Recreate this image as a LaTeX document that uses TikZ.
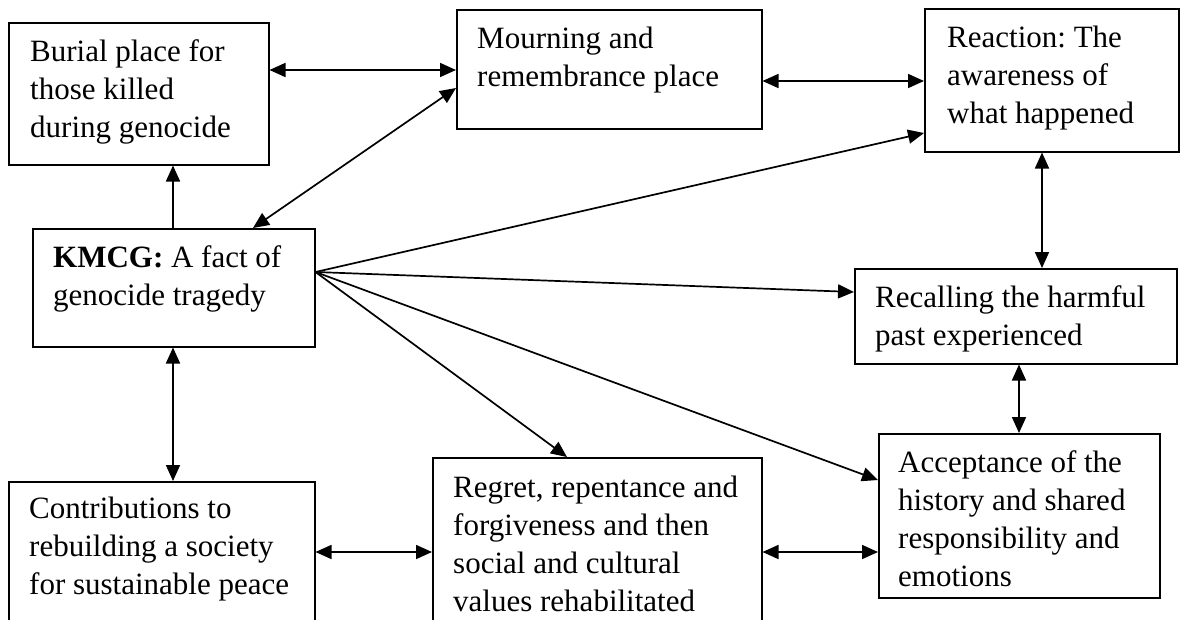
\documentclass[tikz,border=0pt]{standalone}
\usepackage{fontspec}
\setmainfont{Liberation Serif}
\usetikzlibrary{arrows.meta,calc}
\frenchspacing
\begin{document}
\begin{tikzpicture}[x=1pt,y=-1pt,
  box/.style={draw=black, line width=1.5pt, rectangle, inner sep=0pt, anchor=north west},
  txt/.style={anchor=north west, inner sep=0pt, align=left, font=\fontsize{31}{38}\selectfont},
  tip/.tip={Triangle[length=16pt,width=14pt]},
  conn/.style={line width=1.7pt, -tip},
  dconn/.style={line width=1.7pt, tip-tip}]
\clip (0,0) rectangle (1180,619);
\fill[white] (0,0) rectangle (1180,619);
% boxes
\node[box, minimum width=260pt, minimum height=142pt] (burial) at (8,22) {};
\node[box, minimum width=305pt, minimum height=119pt] (mourn) at (456,9) {};
\node[box, minimum width=254pt, minimum height=143pt] (reac) at (924,8) {};
\node[box, minimum width=282pt, minimum height=118pt] (kmcg) at (32,228) {};
\node[box, minimum width=322pt, minimum height=95pt] (recall) at (854,268) {};
\node[box, minimum width=306pt, minimum height=170pt] (contrib) at (8,481) {};
\node[box, minimum width=329pt, minimum height=200pt] (regret) at (432,457) {};
\node[box, minimum width=281pt, minimum height=164pt] (accept) at (878,433) {};
% texts
\node[txt] (tburial) at ($(burial.north west)+(22,12.4)$) {\strut Burial place for\\those killed\\during genocide};
\node[txt] (tmourn) at ($(mourn.north west)+(21,12.4)$) {\strut Mourning and\\remembrance place};
\node[txt] (treac) at ($(reac.north west)+(23,12.4)$) {\strut Reaction: The\\awareness of\\what happened};
\node[txt] (tkmcg) at ($(kmcg.north west)+(21,12.4)$) {\strut\textbf{KMCG:} A fact of\\genocide tragedy};
\node[txt] (trecall) at ($(recall.north west)+(21,12.4)$) {\strut Recalling the harmful\\past experienced};
\node[txt] (tcontrib) at ($(contrib.north west)+(21,10.4)$) {\strut Contributions to\\rebuilding a society\\for sustainable peace};
\node[txt] (tregret) at ($(regret.north west)+(21,13.4)$) {\strut Regret, repentance and\\forgiveness and then\\social and cultural\\values rehabilitated};
\node[txt] (taccept) at ($(accept.north west)+(20,12.4)$) {\strut Acceptance of the\\history and shared\\responsibility and\\emotions};
% helper coordinates
\coordinate (cx173) at (173,0);
\coordinate (cx253) at (253,0);
\coordinate (cx567) at (567,0);
\coordinate (cx1042) at (1042,0);
\coordinate (cx1019) at (1019,0);
\coordinate (cy70) at (0,70);
\coordinate (cy81) at (0,81);
\coordinate (cy88) at (0,88);
\coordinate (cy133) at (0,133);
\coordinate (cy272) at (0,272);
\coordinate (cy292) at (0,292);
\coordinate (cy480) at (0,480);
\coordinate (cy552) at (0,552);
\coordinate (fan) at (kmcg.east |- cy272);
% connectors
\draw[conn] (kmcg.north -| cx173) -- (burial.south -| cx173);
\draw[dconn] (burial.east |- cy70) -- (mourn.west |- cy70);
\draw[dconn] (mourn.east |- cy81) -- (reac.west |- cy81);
\draw[dconn] (kmcg.north -| cx253) -- (mourn.west |- cy88);
\draw[dconn] (reac.south -| cx1042) -- (recall.north -| cx1042);
\draw[dconn] (recall.south -| cx1019) -- (accept.north -| cx1019);
\draw[dconn] (kmcg.south -| cx173) -- (contrib.north -| cx173);
\draw[dconn] (contrib.east |- cy552) -- (regret.west |- cy552);
\draw[dconn] (regret.east |- cy552) -- (accept.west |- cy552);
\draw[conn] (fan) -- (reac.west |- cy133);
\draw[conn] (fan) -- (recall.west |- cy292);
\draw[conn] (fan) -- (accept.west |- cy480);
\draw[conn] (fan) -- (regret.north -| cx567);
\end{tikzpicture}
\end{document}
